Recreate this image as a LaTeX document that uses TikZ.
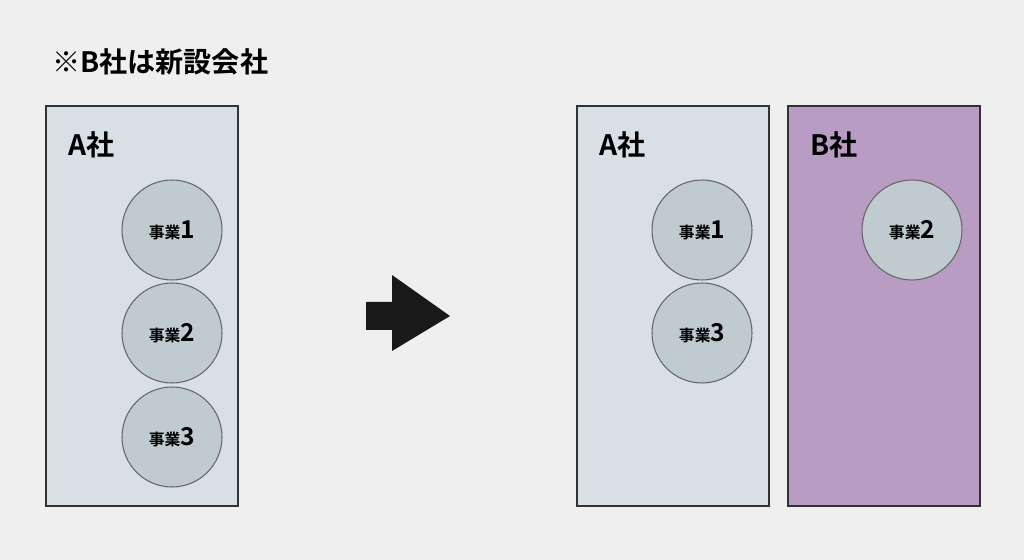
\documentclass[tikz,border=0pt]{standalone}
\usepackage{fontspec}
\setmainfont{Noto Sans CJK JP}[BoldFont={Noto Sans CJK JP Bold}]
\definecolor{bgcol}{HTML}{EFEFEF}
\definecolor{boxa}{HTML}{D8E0E6}
\definecolor{boxb}{HTML}{B89CC4}
\definecolor{bizcol}{HTML}{C0CBCF}
\tikzset{
  company/.style={draw=black!80, line width=1.4pt, anchor=north west, minimum width=3.84cm, minimum height=8cm},
  complabel/.style={anchor=west, font=\bfseries\fontsize{16}{18}\selectfont},
  biz/.style={circle, draw=black!60, line width=0.6pt, fill=bizcol, minimum size=2cm, inner sep=0pt}
}
\newcommand{\bizlabel}[1]{{\bfseries\fontsize{9}{10}\selectfont 事業}{\bfseries\fontsize{14}{15}\selectfont #1}}
\begin{document}
\begin{tikzpicture}[x=0.02cm, y=-0.02cm]
  \fill[bgcol] (0,0) rectangle (1024,560);
  \node[anchor=west, font=\bfseries\fontsize{16}{18}\selectfont] (title) at (46,62) {※B社は新設会社};
  % before
  \node[company, fill=boxa] (A) at (45,105) {};
  \node[complabel] (Alabel) at (62,145) {A社};
  \foreach \n/\y in {1/230,2/333,3/437}
  {
    \node[biz] (biz\n) at (172,\y) {\bizlabel{\n}};
  }
  % arrow
  \fill[black!90] (366,302) -- (392,302) -- (392,275) -- (450,316) -- (392,351) -- (392,330) -- (366,330) -- cycle;
  % after
  \node[company, fill=boxa] (A2) at (576,105) {};
  \node[complabel] (A2label) at (593,145) {A社};
  \node[biz] (newbiz1) at (702,230) {\bizlabel{1}};
  \node[biz] (newbiz3) at (702,333) {\bizlabel{3}};
  \node[company, fill=boxb] (B) at (787,105) {};
  \node[complabel] (Blabel) at (804,145) {B社};
  \node[biz] (newbiz2) at (912,230) {\bizlabel{2}};
\end{tikzpicture}
\end{document}
